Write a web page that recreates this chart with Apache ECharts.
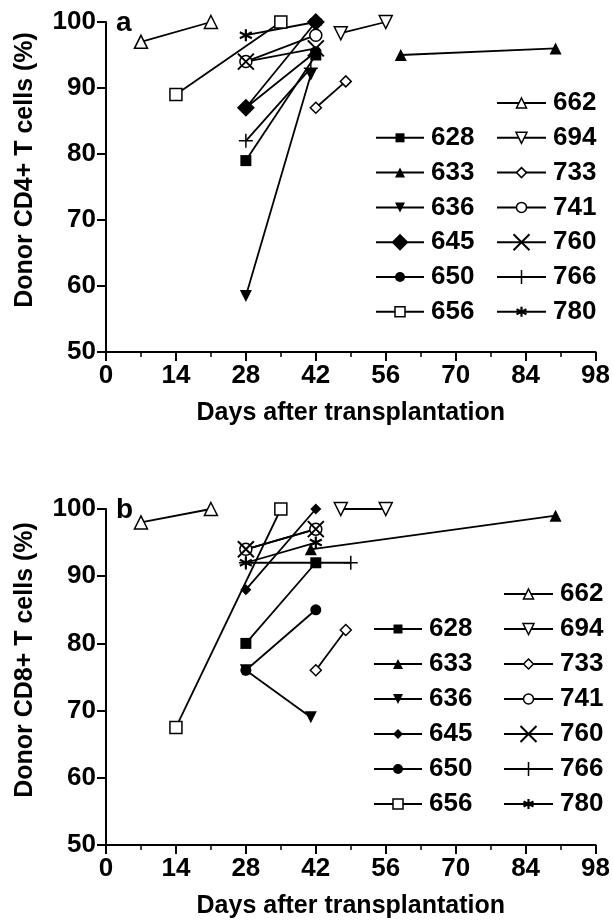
<!DOCTYPE html>
<html>
<head>
<meta charset="utf-8">
<script src="https://cdn.jsdelivr.net/npm/echarts@6/dist/echarts.min.js"></script>
<style>
html, body { margin: 0; padding: 0; background: #fff; }
#main { width: 613px; height: 923px; }
</style>
</head>
<body>
<div id="main"></div>
<script>
// patient ids, in series order
var names = ['628', '633', '636', '645', '650', '656', '662', '694', '733', '741', '760', '766', '780'];

// panel a - donor CD4+ T cells (%)
var cd4Days   = [[28, 42], [59, 90], [28, 41], [28, 42], [28, 42], [14, 35], [7, 21], [47, 56], [42, 48], [28, 42], [28, 42], [28, 41], [28, 42]];
var cd4Values = [[79, 95], [95, 96], [58.5, 92], [87, 100], [87, 95.5], [89, 100], [97, 100], [98.3, 100], [87, 91], [94, 98], [94, 96], [82, 93], [98, 100]];

// panel b - donor CD8+ T cells (%)
var cd8Days   = [[28, 42], [41, 90], [28, 41], [28, 42], [28, 42], [14, 35], [7, 21], [47, 56], [42, 48], [28, 42], [28, 42], [28, 49], [28, 42]];
var cd8Values = [[80, 92], [94, 99], [76, 69], [88, 100], [76, 85], [67.5, 100], [98, 100], [100, 100], [76, 82], [94, 97], [94, 97], [92, 92], [92, 95]];

// tick labels
var dayTicks = [0, 14, 28, 42, 56, 70, 84, 98];
var pctTicks = [50, 60, 70, 80, 90, 100];

var FONT = "'Liberation Sans', Arial, Helvetica, sans-serif";

// marker look per patient (plot size / legend size)
var marks = {
  '628': { symbol: 'rect', size: 11, lsize: 9, fill: '#000', bw: 0 },
  '633': { symbol: 'triangle', size: 12, lsize: 10, fill: '#000', bw: 0 },
  '636': { symbol: 'triangle', rotate: 180, size: 12, lsize: 10, fill: '#000', bw: 0 },
  '645': { symbol: 'diamond', size: [18, 11], lsize: [17, 10], fill: '#000', bw: 0 },
  '650': { symbol: 'circle', size: 11, lsize: 10, fill: '#000', bw: 0 },
  '656': { symbol: 'rect', size: 12, lsize: 10, fill: '#fff', bw: 1.5 },
  '662': { symbol: 'triangle', size: 13, lsize: 10, fill: '#fff', bw: 1.5 },
  '694': { symbol: 'triangle', rotate: 180, size: 13, lsize: 11, fill: '#fff', bw: 1.5 },
  '733': { symbol: 'diamond', size: 11, lsize: 10, fill: '#fff', bw: 1.5 },
  '741': { symbol: 'circle', size: 12, lsize: 10, fill: '#fff', bw: 1.5 },
  '760': { symbol: 'path://M0,0L10,10M10,0L0,10', size: 16, lsize: 16, fill: '#000', bw: 2 },
  '766': { symbol: 'path://M5,0L5,10M0,5L10,5', size: 14, lsize: 14, fill: '#000', bw: 1.5 },
  '780': { symbol: 'path://M5,0L5,10M0.67,2.5L9.33,7.5M0.67,7.5L9.33,2.5', size: 12, lsize: 10, fill: '#000', bw: 2.2 }
};

// legend slots: column (0/1) and row
var legendCol = { '628': 0, '633': 0, '636': 0, '645': 0, '650': 0, '656': 0,
                  '662': 1, '694': 1, '733': 1, '741': 1, '760': 1, '766': 1, '780': 1 };
var legendRow = { '662': 0, '628': 1, '694': 1, '633': 2, '733': 2, '636': 3, '741': 3,
                  '645': 4, '760': 4, '650': 5, '766': 5, '656': 6, '780': 6 };

var panels = [
  { days: cd4Days, values: cd4Values, title: 'Donor CD4+ T cells (%)', letter: 'a',
    grid: { left: 106, top: 22, width: 490, height: 330 },
    legendTop: 103, legendStep: 34.8, colX: [375, 496], colW: [48, 49] },
  { days: cd8Days, values: cd8Values, title: 'Donor CD8+ T cells (%)', letter: 'b',
    grid: { left: 106, top: 509, width: 490, height: 336 },
    legendTop: 594, legendStep: 35, colX: [373, 503], colW: [48, 49] }
];

function pick(v, i) { return Array.isArray(v) ? v[i] : v; }

var grids = [], xAxes = [], yAxes = [], series = [], legends = [], graphics = [];

panels.forEach(function (p, pi) {
  grids.push(p.grid);

  xAxes.push({
    gridIndex: pi, type: 'value',
    min: dayTicks[0], max: dayTicks[dayTicks.length - 1], interval: dayTicks[1] - dayTicks[0],
    name: 'Days after transplantation', nameLocation: 'middle', nameGap: 49,
    nameTextStyle: { color: '#000', fontSize: 25, fontWeight: 'bold', fontFamily: FONT },
    axisLine: { lineStyle: { color: '#000', width: 2 } },
    axisTick: { show: true, length: 9, lineStyle: { color: '#000', width: 2 } },
    minorTick: { show: true, splitNumber: 2, length: 5, lineStyle: { color: '#000', width: 1.5 } },
    splitLine: { show: false },
    axisLabel: { color: '#000', fontSize: 26, fontWeight: 'bold', fontFamily: FONT, margin: 11 }
  });

  yAxes.push({
    gridIndex: pi, type: 'value',
    min: pctTicks[0], max: pctTicks[pctTicks.length - 1], interval: pctTicks[1] - pctTicks[0],
    name: p.title, nameLocation: 'middle', nameGap: 68,
    nameTextStyle: { color: '#000', fontSize: 25, fontWeight: 'bold', fontFamily: FONT, padding: [0, 0, 0, 34] },
    axisLine: { show: true, lineStyle: { color: '#000', width: 2 } },
    axisTick: { show: true, length: 9, lineStyle: { color: '#000', width: 2 } },
    splitLine: { show: false },
    axisLabel: { color: '#000', fontSize: 26, fontWeight: 'bold', fontFamily: FONT, margin: 10 }
  });

  names.forEach(function (n, si) {
    var m = marks[n];
    var pts = p.days[si].map(function (d, k) { return [d, p.values[si][k]]; });
    series.push({
      name: n, type: 'line', xAxisIndex: pi, yAxisIndex: pi,
      data: pts,
      symbol: m.symbol, symbolSize: pick(m.size, pi), symbolRotate: m.rotate || 0,
      showSymbol: true, clip: false, silent: true, animation: false,
      lineStyle: { color: '#000', width: 1.8 },
      itemStyle: { color: m.fill, borderColor: '#000', borderWidth: m.bw },
      emphasis: { disabled: true }
    });

    var col = legendCol[n];
    var ls = pick(m.lsize, pi);
    legends.push({
      data: [n], orient: 'vertical', selectedMode: false, padding: 0,
      left: p.colX[col], top: p.legendTop + legendRow[n] * p.legendStep - 15,
      itemWidth: p.colW[col], itemHeight: ls / 0.8, itemGap: 0,
      itemStyle: { borderWidth: m.bw },
      textStyle: { color: '#000', fontSize: 26, fontWeight: 'bold', fontFamily: FONT, lineHeight: 30, padding: [0, 0, 0, 2] }
    });
  });

  graphics.push({
    type: 'text', left: p.grid.left + 10, top: p.grid.top - 13,
    style: { text: p.letter, fill: '#000', font: 'bold 28px ' + FONT }
  });
});

var chart = echarts.init(document.getElementById('main'), null, { renderer: 'canvas' });
chart.setOption({
  backgroundColor: '#fff',
  animation: false,
  grid: grids,
  xAxis: xAxes,
  yAxis: yAxes,
  legend: legends,
  graphic: graphics,
  series: series
});
window.onresize = chart.resize;
</script>
</body>
</html>
